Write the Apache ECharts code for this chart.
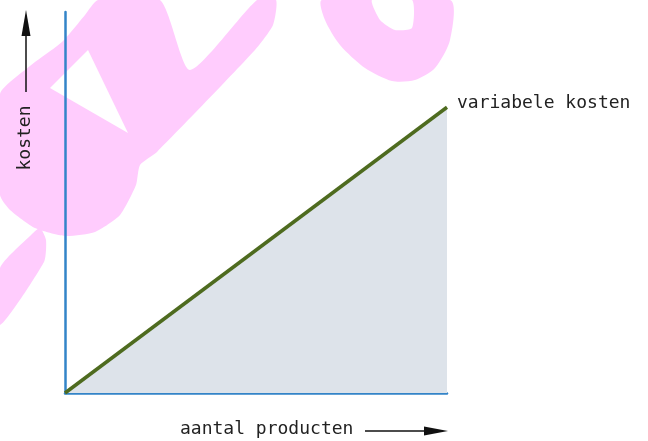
<!DOCTYPE html>
<html>
<head>
<meta charset="utf-8">
<script src="https://cdn.jsdelivr.net/npm/echarts@6/dist/echarts.min.js"></script>
<style>
  html, body { margin: 0; padding: 0; background: #fff; }
  #chart { width: 648px; height: 441px; }
</style>
</head>
<body>
<div id="chart"></div>
<script>
var productAmounts = [0, 100];   // aantal producten
var variableCosts = [0, 75];     // kosten
var lineName = 'variabele kosten';
var xTitle = 'aantal producten';
var yTitle = 'kosten';

var fontMono = '"DejaVu Sans Mono", monospace';
var pink = '#ffccfd';

var points = [];
for (var i = 0; i < productAmounts.length; i++) {
    points.push([productAmounts[i], variableCosts[i]]);
}

var myChart = echarts.init(document.getElementById('chart'));

// watermark shapes (rough)
var marks = [
    { type: 'polygon', z: -10, shape: { smooth: 0.2, points: [[98,0],[160,0],[190,70],[257,0],[276,0],[273,25],[255,50],[157,152],[140,165],[136,185],[120,215],[95,232],[65,236],[35,228],[10,210],[0,195],[0,94],[30,66],[62,42],[85,15]] }, style: { fill: pink } },
    { type: 'polygon', z: -9, shape: { points: [[88,50],[50,88],[128,133]] }, style: { fill: '#fff' } },
    { type: 'polygon', z: -10, shape: { smooth: 0.2, points: [[0,268],[30,236],[40,228],[46,240],[44,262],[0,325]] }, style: { fill: pink } },
    { type: 'polygon', z: -10, shape: { smooth: 0.25, points: [[322,0],[450,0],[450,40],[435,68],[415,80],[392,81],[365,68],[340,45],[325,20]] }, style: { fill: pink } },
    { type: 'polygon', z: -9, shape: { smooth: 0.2, points: [[372,0],[412,0],[412,28],[395,30],[380,20]] }, style: { fill: '#fff' } }
];

var option = {
    animation: false,
    backgroundColor: '#fff',
    grid: {
        left: 65,
        top: 12,
        width: 382,
        height: 381
    },
    xAxis: {
        type: 'value',
        min: 0,
        max: 100,
        axisLine: { show: true, lineStyle: { color: '#3384c8', width: 2.5 } },
        axisTick: { show: false },
        axisLabel: { show: false },
        splitLine: { show: false }
    },
    yAxis: {
        type: 'value',
        min: 0,
        max: 100,
        axisLine: { show: true, lineStyle: { color: '#3384c8', width: 2.5 } },
        axisTick: { show: false },
        axisLabel: { show: false },
        splitLine: { show: false }
    },
    graphic: marks.concat([
        {
            type: 'text', z: 10,
            left: 180, top: 420,
            style: { text: xTitle, font: '18px ' + fontMono, fill: '#222' }
        },
        { type: 'line', z: 10, shape: { x1: 365, y1: 431, x2: 430, y2: 431 }, style: { stroke: '#111', lineWidth: 1.5 } },
        { type: 'polygon', z: 10, shape: { points: [[424,426.5],[424,435.5],[448,431]] }, style: { fill: '#111' } },
        {
            type: 'text', z: 10,
            x: 25, y: 138, rotation: Math.PI / 2,
            style: { text: yTitle, font: '18px ' + fontMono, fill: '#222', align: 'center', verticalAlign: 'middle' }
        },
        { type: 'line', z: 10, shape: { x1: 26, y1: 92, x2: 26, y2: 30 }, style: { stroke: '#111', lineWidth: 1.5 } },
        { type: 'polygon', z: 10, shape: { points: [[21.5,36],[30.5,36],[26,10]] }, style: { fill: '#111' } }
    ]),
    series: [
        {
            name: lineName,
            type: 'line',
            data: points,
            symbol: 'none',
            lineStyle: { color: '#4e6b1f', width: 3.5 },
            areaStyle: { color: '#dde3ea', opacity: 1 },
            endLabel: {
                show: true,
                formatter: lineName,
                distance: 10,
                offset: [0, -4],
                fontSize: 18,
                fontFamily: fontMono,
                color: '#222'
            }
        }
    ]
};

myChart.setOption(option);
</script>
</body>
</html>
